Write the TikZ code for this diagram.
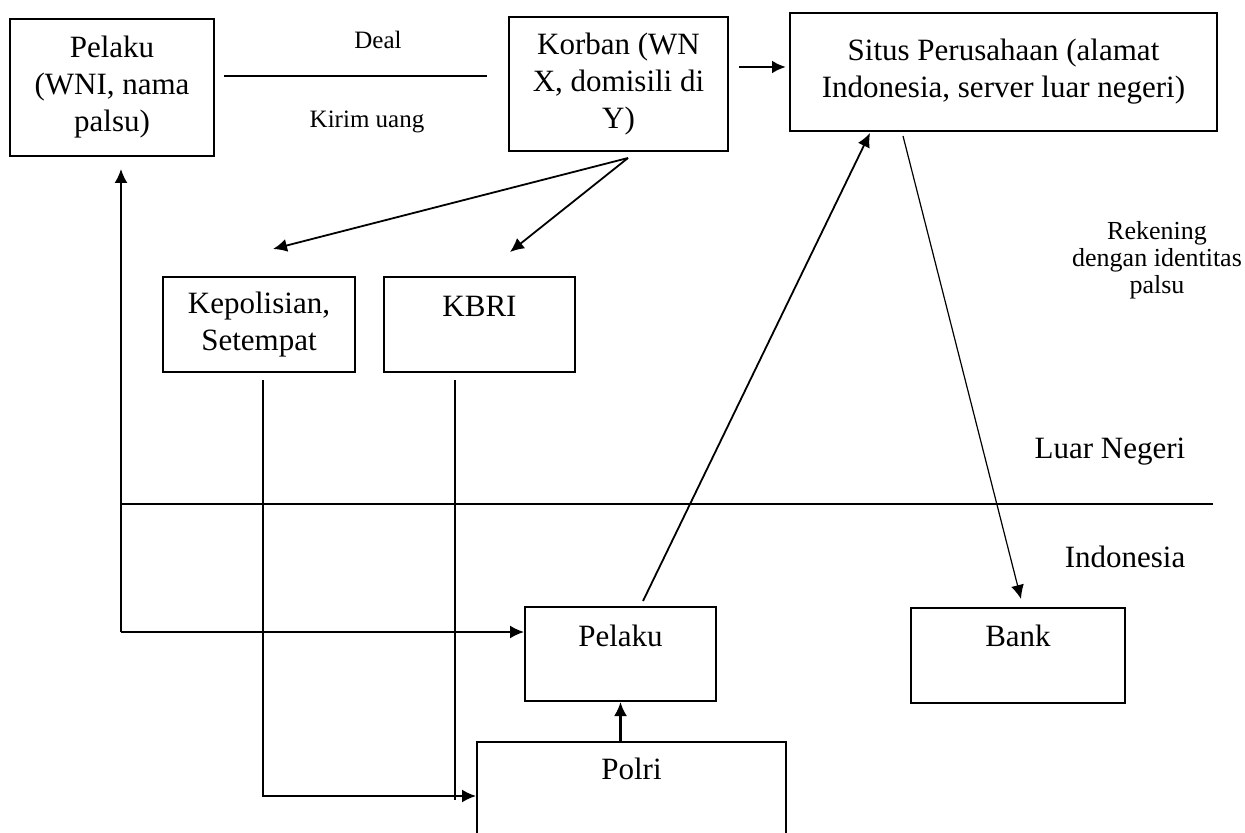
\documentclass[tikz,border=0pt]{standalone}
\usepackage{fontspec}
\setmainfont{Liberation Serif}
\usetikzlibrary{arrows.meta, positioning}

\begin{document}
\begin{tikzpicture}[x=0.5pt, y=-0.5pt, >={Latex[length=7pt,width=6.5pt]}, line width=0.9pt]
        \tikzstyle{box} = [rectangle, draw, line width=1pt, align=center, inner sep=0pt, font=\fontsize{15.5}{18.5}\selectfont]
        \tikzstyle{tag} = [anchor=center, yshift=-15pt, inner sep=0pt, font=\fontsize{15.5}{18.5}\selectfont]
        \tikzstyle{note} = [align=center, inner sep=0pt, font=\fontsize{12.5}{13.5}\selectfont]
        \tikzstyle{area} = [inner sep=0pt, font=\fontsize{15.5}{18.5}\selectfont]

        \clip (0,0) rectangle (1245,833);

        % luar negeri
        \node (pelaku) [box, minimum width=102pt, minimum height=68.5pt] at (112,87.5) {Pelaku\\(WNI, nama\\palsu)};
        \node (korban) [box, minimum width=109.5pt, minimum height=67pt] at (618.5,84) {Korban (WN\\X, domisili di\\Y)};
        \node (situs) [box, minimum width=213.5pt, minimum height=59pt] at (1003.5,72) {Situs Perusahaan (alamat\\Indonesia, server luar negeri)};
        \node (kepol) [box, minimum width=96pt, minimum height=47.5pt] at (259,324.5) {Kepolisian,\\Setempat};
        \node (kbri) [box, minimum width=95.5pt, minimum height=47.5pt, right=13.5pt of kepol, label={[tag]north:KBRI}] {};

        \node (deal) [note] at (378,40) {Deal};
        \node (kirim) [note] at (367,122) {Kirim uang};
        \node (rekening) [note, font=\fontsize{13}{13.5}\selectfont] at (1157,260) {Rekening\\dengan identitas\\palsu};
        \node (luar) [area] at (1110,452) {Luar Negeri};
        \node (indo) [area] at (1125,557) {Indonesia};

        % indonesia
        \node (pelakuid) [box, minimum width=95.5pt, minimum height=47pt, label={[tag]north:Pelaku}] at (620.5,654) {};
        \node (bank) [box, minimum width=107pt, minimum height=47.5pt, label={[tag, yshift=0.5pt]north:Bank}] at (1018,655.5) {};
        \node (polri) [box, minimum width=154.5pt, minimum height=54pt, label={[tag, yshift=1pt]north:Polri}] at (631.5,796) {};

        \draw [line width=1pt] (121,504) -- (1213,504);

        \draw [shorten <=4.5pt, shorten >=10.5pt] ([yshift=5.75pt]pelaku.east) coordinate (d0) -- (d0 -| korban.west);
        \draw [->, line width=1.4pt, shorten <=5pt, shorten >=1.5pt] ([yshift=8.5pt]korban.east) coordinate (k0) -- (k0 -| situs.west);

        \coordinate (fork) at ([xshift=4.75pt, yshift=-3pt]korban.south);
        \draw [->] (fork) -- ([xshift=7pt, yshift=13.5pt]kepol.north);
        \draw [->] (fork) -- ([xshift=15.25pt, yshift=12pt]kbri.north);

        \coordinate (turn) at (121,632);
        \draw [->, shorten >=6pt] (turn) -- (turn |- pelaku.south);
        \draw [->] (turn) -- (turn -| pelakuid.west);

        \draw [->, shorten <=3.5pt] ([xshift=2pt]kepol.south) |- (polri.west);
        \coordinate (kb0) at ([xshift=-12.25pt]kbri.south);
        \draw [shorten <=3.5pt, shorten >=-2pt] (kb0) -- (kb0 |- polri.west);

        \draw [->, line width=1.2pt] (polri.north -| pelakuid.south) -- (pelakuid.south);
        \draw [->] ([xshift=11.25pt, yshift=2.5pt]pelakuid.north) -- ([xshift=-66.75pt, yshift=-0.5pt]situs.south);
        \draw [->, line width=0.6pt] ([xshift=-50.25pt, yshift=-2pt]situs.south) -- ([xshift=1.5pt, yshift=4pt]bank.north);
    \end{tikzpicture}
\end{document}
